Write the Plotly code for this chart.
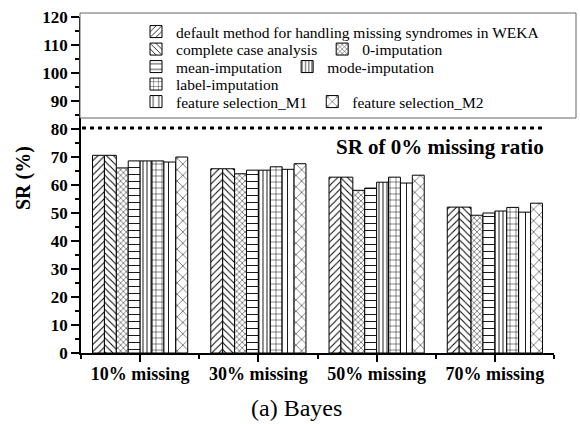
import plotly.graph_objects as go

# ---- data ----
categories = ["10% missing", "30% missing", "50% missing", "70% missing"]
method_names = [
    "default method for handling missing syndromes in WEKA",
    "complete case analysis",
    "0-imputation",
    "mean-imputation",
    "mode-imputation",
    "label-imputation",
    "feature selection_M1",
    "feature selection_M2",
]
sr_default = [70.6, 65.8, 62.8, 52.1]
sr_complete = [70.6, 65.8, 62.8, 52.1]
sr_zero = [66.1, 64.0, 58.1, 49.2]
sr_mean = [68.6, 65.3, 58.9, 50.0]
sr_mode = [68.6, 65.3, 61.0, 50.7]
sr_label = [68.6, 66.5, 62.8, 52.0]
sr_fs_m1 = [68.2, 65.6, 60.7, 50.3]
sr_fs_m2 = [70.0, 67.6, 63.5, 53.5]
sr_zero_missing = 80.4
y_ticks = list(range(0, 121, 10))

series = [sr_default, sr_complete, sr_zero, sr_mean, sr_mode, sr_label, sr_fs_m1, sr_fs_m2]

# ---- styles ----
patterns = [
    dict(shape="/", size=5, solidity=0.2),
    dict(shape="\\", size=5, solidity=0.2),
    dict(shape="x", size=4, solidity=0.22),
    dict(shape="-", size=7, solidity=0.13),
    dict(shape="|", size=4, solidity=0.22),
    dict(shape="+", size=6, solidity=0.15),
    dict(shape="|", size=7, solidity=0.13),
    dict(shape="x", size=8, solidity=0.12),
]
legend_ids = ["legend", "legend2", "legend2", "legend3", "legend3", "legend4", "legend5", "legend5"]

W, H = 580, 424
L, R, T, B = 81, 26, 17, 71
PW, PH = W - L - R, H - T - B


def px_x(px):
    return (px - L) / PW


def px_y(py):
    return (H - B - py) / PH


serif = "Liberation Serif"
x_pos = list(range(len(categories)))

fig = go.Figure()
for name, vals, pat, lg in zip(method_names, series, patterns, legend_ids):
    fig.add_trace(go.Bar(
        x=x_pos, y=vals, name=name, legend=lg,
        marker=dict(color="white", line=dict(color="black", width=1),
                    pattern=dict(fgcolor="black", bgcolor="white", fillmode="replace", **pat)),
    ))

row_centers = [32, 49.5, 67, 84.5, 102]
legend_common = dict(orientation="h", xref="container", yref="container",
                     x=136 / W, xanchor="left", yanchor="middle",
                     bgcolor="rgba(0,0,0,0)", borderwidth=0,
                     font=dict(family=serif, size=15.5, color="black"))
layout_legends = {}
for i, yc in enumerate(row_centers):
    key = "legend" if i == 0 else f"legend{i + 1}"
    layout_legends[key] = dict(legend_common, y=1 - yc / H)

fig.update_layout(
    width=W, height=H,
    margin=dict(l=L, r=R, t=T, b=B, autoexpand=False),
    paper_bgcolor="white", plot_bgcolor="white",
    barmode="group", bargap=0.195, bargroupgap=0,
    showlegend=True,
    font=dict(family=serif, color="black"),
    **layout_legends,
)

fig.update_xaxes(
    range=[-0.5, 3.5], tickmode="array", tickvals=x_pos, ticktext=categories,
    showline=True, linecolor="black", linewidth=1.5, showgrid=False, zeroline=False,
    ticks="outside", ticklen=7, tickwidth=1.5, tickcolor="black",
    ticklabelstandoff=-3,
    tickfont=dict(family=serif, size=18, color="black", weight="bold"),
    minor=dict(tickmode="array", tickvals=[-0.5, 0.5, 1.5, 2.5, 3.5],
               ticks="outside", ticklen=4, tickwidth=1.5, tickcolor="black"),
)
fig.update_yaxes(
    range=[0, 120], tickmode="array", tickvals=y_ticks,
    showline=True, linecolor="black", linewidth=1.5, showgrid=False, zeroline=False,
    ticks="outside", ticklen=8, tickwidth=1.5, tickcolor="black",
    tickfont=dict(family=serif, size=17, color="black", weight="bold"),
    minor=dict(dtick=5, ticks="outside", ticklen=4, tickwidth=1.5, tickcolor="black", showgrid=False),
)

# legend frame
fig.add_shape(type="rect", xref="paper", yref="paper",
              x0=px_x(80), x1=px_x(576), y0=px_y(118), y1=px_y(13),
              line=dict(color="#666666", width=1), fillcolor="white", layer="above")
# reference line: SR at 0% missing ratio
fig.add_shape(type="line", xref="paper", yref="y",
              x0=px_x(82), x1=px_x(543), y0=sr_zero_missing, y1=sr_zero_missing,
              line=dict(color="black", width=3, dash="4px,4px"))

fig.add_annotation(text="<b>SR of 0% missing ratio</b>", xref="paper", yref="paper",
                   x=px_x(440), y=px_y(147), xanchor="center", yanchor="middle",
                   showarrow=False, font=dict(family=serif, size=21, color="black"))
fig.add_annotation(text="<b>SR (%)</b>", xref="paper", yref="paper",
                   x=px_x(23), y=px_y(178), xanchor="center", yanchor="middle", textangle=-90,
                   showarrow=False, font=dict(family=serif, size=20, color="black"))
fig.add_annotation(text="(a) Bayes", xref="paper", yref="paper",
                   x=px_x(296), y=px_y(408), xanchor="center", yanchor="middle",
                   showarrow=False, font=dict(family=serif, size=24, color="black"))

fig.write_html("out.html")
